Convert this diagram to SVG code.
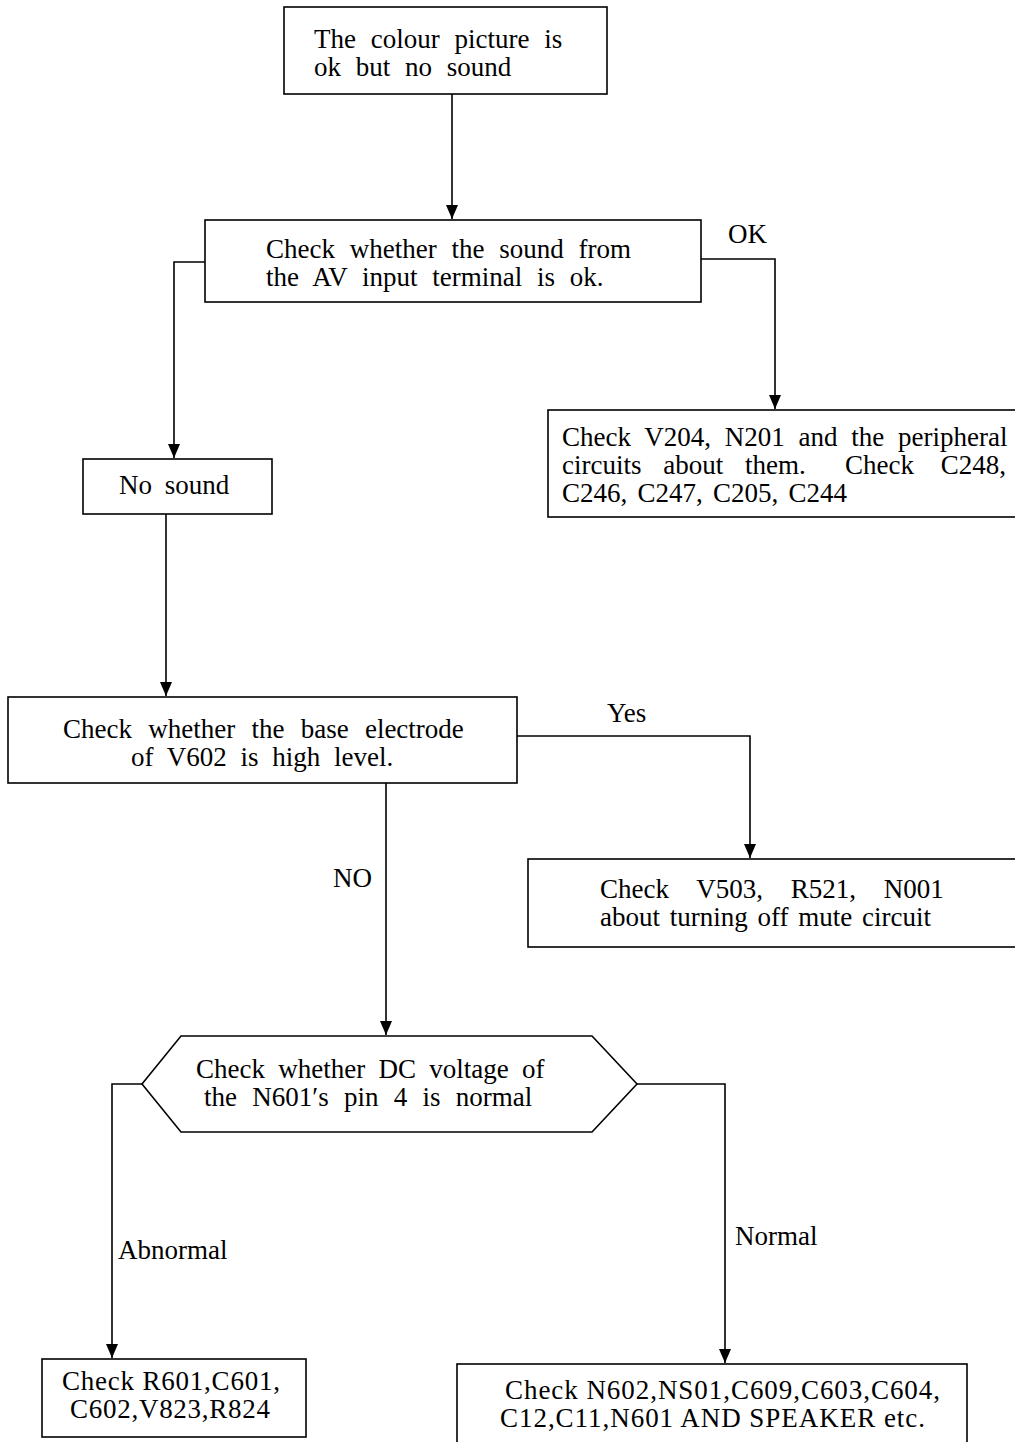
<svg xmlns="http://www.w3.org/2000/svg" width="1015" height="1442" viewBox="0 0 1015 1442">
  <style>
    .box { fill: #fff; stroke: #000; stroke-width: 1.6; }
    .wire { fill: none; stroke: #000; stroke-width: 1.6; }
    text { font-family: "Liberation Serif", "DejaVu Serif", serif; font-size: 27px; fill: #000; }
  </style>
  <defs>
    <!-- filled arrowhead pointing along the path direction, tip at the path end -->
    <marker id="arrow" viewBox="0 0 14 12" refX="14" refY="6" markerWidth="14" markerHeight="12" markerUnits="userSpaceOnUse" orient="auto">
      <path d="M0,0 L14,6 L0,12 Z" fill="#000"/>
    </marker>
  </defs>

  <rect width="1015" height="1442" fill="#fff"/>

  <g id="connectors">
    <path class="wire" d="M452,94 V219" marker-end="url(#arrow)"/>
    <path class="wire" d="M701,259 H775 V409" marker-end="url(#arrow)"/>
    <path class="wire" d="M205,262 H174 V458" marker-end="url(#arrow)"/>
    <path class="wire" d="M166,514 V696" marker-end="url(#arrow)"/>
    <path class="wire" d="M517,736 H750 V858" marker-end="url(#arrow)"/>
    <path class="wire" d="M386,783 V1035" marker-end="url(#arrow)"/>
    <path class="wire" d="M142,1084 H112 V1358" marker-end="url(#arrow)"/>
    <path class="wire" d="M637,1084 H725 V1363" marker-end="url(#arrow)"/>
    <text x="728" y="243">OK</text>
    <text x="607" y="722">Yes</text>
    <text x="333" y="887">NO</text>
    <text x="118" y="1259">Abnormal</text>
    <text x="735" y="1245">Normal</text>
  </g>

  <g id="start">
    <rect class="box" x="284" y="7" width="323" height="87"/>
    <text x="314" y="48" word-spacing="8">The colour picture is</text>
    <text x="314" y="76" word-spacing="8">ok but no sound</text>
  </g>

  <g id="check-av">
    <rect class="box" x="205" y="220" width="496" height="82"/>
    <text x="266" y="258" word-spacing="8">Check whether the sound from</text>
    <text x="266" y="286" word-spacing="8">the AV input terminal is ok.</text>
  </g>

  <g id="check-v204">
    <rect class="box" x="548" y="410" width="470" height="107"/>
    <text x="562" y="446" word-spacing="7">Check V204, N201 and the peripheral</text>
    <text x="562" y="474" word-spacing="15">circuits about them.</text>
    <text x="845" y="474" word-spacing="20">Check C248,</text>
    <text x="562" y="502" word-spacing="3.5">C246, C247, C205, C244</text>
  </g>

  <g id="no-sound">
    <rect class="box" x="83" y="459" width="189" height="55"/>
    <text x="119" y="494" word-spacing="6">No sound</text>
  </g>

  <g id="check-v602">
    <rect class="box" x="8" y="697" width="509" height="86"/>
    <text x="63" y="738" word-spacing="9.5">Check whether the base electrode</text>
    <text x="131" y="766" word-spacing="7">of V602 is high level.</text>
  </g>

  <g id="check-v503">
    <rect class="box" x="528" y="859" width="490" height="88"/>
    <text x="600" y="898" word-spacing="21">Check V503, R521, N001</text>
    <text x="600" y="926" word-spacing="3">about turning off mute circuit</text>
  </g>

  <g id="check-n601">
    <polygon class="box" points="142,1084 181,1036 592,1036 637,1084 592,1132 181,1132"/>
    <text x="196" y="1078" word-spacing="6.5">Check whether DC voltage of</text>
    <text x="204" y="1106" word-spacing="8.5">the N601′s pin 4 is normal</text>
  </g>

  <g id="check-r601">
    <rect class="box" x="42" y="1359" width="264" height="78"/>
    <text x="62" y="1390" textLength="218" lengthAdjust="spacing">Check R601,C601,</text>
    <text x="70" y="1418" textLength="200" lengthAdjust="spacing">C602,V823,R824</text>
  </g>

  <g id="check-n602">
    <rect class="box" x="457" y="1364" width="510" height="82"/>
    <text x="505" y="1399" textLength="435" lengthAdjust="spacing">Check N602,NS01,C609,C603,C604,</text>
    <text x="500" y="1427" textLength="425" lengthAdjust="spacing">C12,C11,N601 AND SPEAKER etc.</text>
  </g>
</svg>
